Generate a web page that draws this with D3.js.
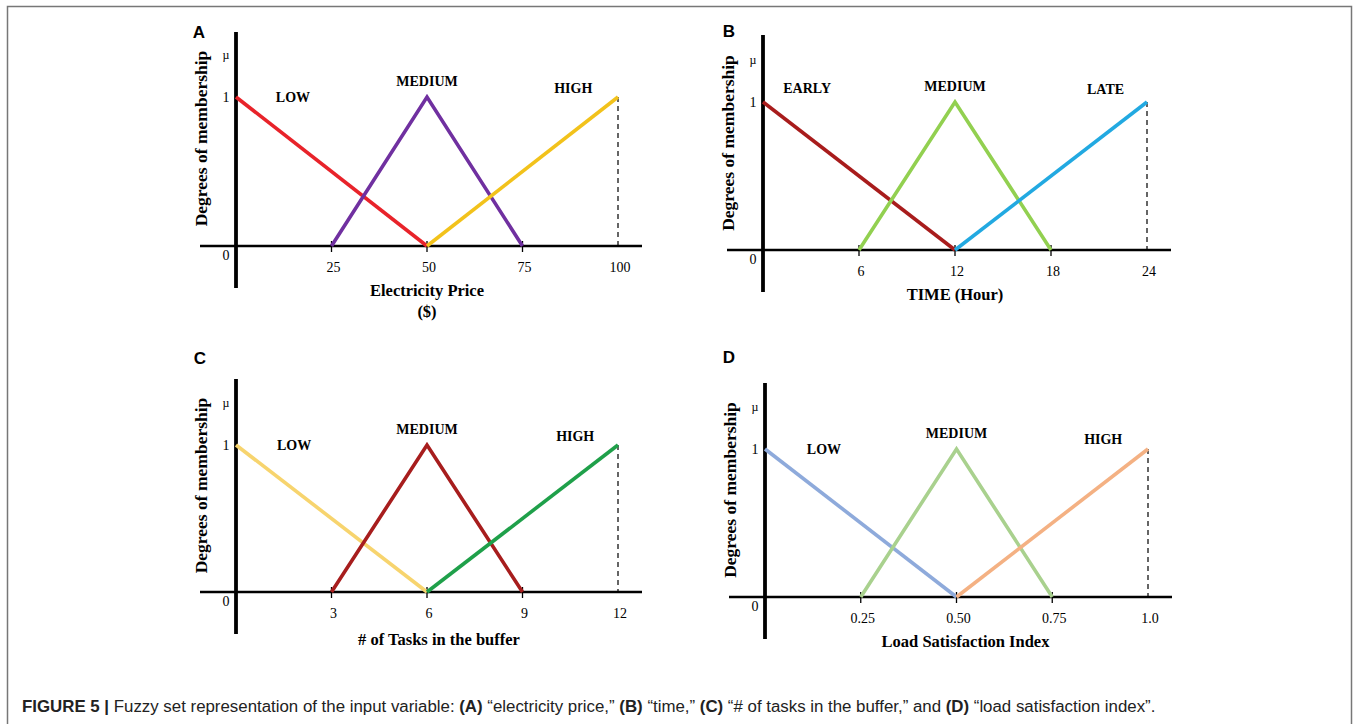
<!DOCTYPE html>
<html>
<head>
<meta charset="utf-8">
<script src="https://cdn.jsdelivr.net/npm/d3@7"></script>
<style>
  body { margin: 0; background: #fff; }
  svg { display: block; }
</style>
</head>
<body>
<div id="chart"></div>
<script>
// panel data: membership functions as [x, mu] breakpoints
var panelLetters = ["A", "B", "C", "D"];
var xTitles = [["Electricity Price", "($)"], ["TIME (Hour)"], ["# of Tasks in the buffer"], ["Load Satisfaction Index"]];
var xMaxValues = [100, 24, 12, 1];
var xTicks = [[25, 50, 75, 100], [6, 12, 18, 24], [3, 6, 9, 12], [0.25, 0.5, 0.75, 1.0]];
var xTickLabels = [["25", "50", "75", "100"], ["6", "12", "18", "24"], ["3", "6", "9", "12"], ["0.25", "0.50", "0.75", "1.0"]];
var setNames = [["LOW", "MEDIUM", "HIGH"], ["EARLY", "MEDIUM", "LATE"], ["LOW", "MEDIUM", "HIGH"], ["LOW", "MEDIUM", "HIGH"]];
var setsA = [[[0, 1], [50, 0]], [[25, 0], [50, 1], [75, 0]], [[50, 0], [100, 1]]];
var setsB = [[[0, 1], [12, 0]], [[6, 0], [12, 1], [18, 0]], [[12, 0], [24, 1]]];
var setsC = [[[0, 1], [6, 0]], [[3, 0], [6, 1], [9, 0]], [[6, 0], [12, 1]]];
var setsD = [[[0, 1], [0.5, 0]], [[0.25, 0], [0.5, 1], [0.75, 0]], [[0.5, 0], [1, 1]]];
var allSets = [setsA, setsB, setsC, setsD];
var setColors = [
    ["#e8232a", "#7030a0", "#f2c21b"],
    ["#a81c1c", "#92d050", "#22a9e1"],
    ["#f7d46e", "#a71d1d", "#1fa04a"],
    ["#8eaadb", "#a9d18e", "#f4b183"]
];

// layout of the four panels (pixels)
var layout = [
    { x0: 236, x1: 618, y0: 246, y1: 97, top: 32, letter: [199, 38], yTitleX: 201, xTitleY: 296, xTitleDx: 0, labelPos: [[0.149, 1.0], [0.5, 1.105], [0.883, 1.063]] },
    { x0: 763, x1: 1147, y0: 250, y1: 102, top: 35, letter: [729, 37], yTitleX: 728, xTitleY: 300, xTitleDx: 0, labelPos: [[0.115, 1.094], [0.5, 1.108], [0.892, 1.086]] },
    { x0: 236, x1: 618, y0: 592, y1: 445, top: 379, letter: [200, 364], yTitleX: 201, xTitleY: 645, xTitleDx: 12, labelPos: [[0.152, 1.0], [0.5, 1.109], [0.888, 1.061]] },
    { x0: 765, x1: 1148, y0: 597, y1: 449, top: 383, letter: [729, 363], yTitleX: 730, xTitleY: 647, xTitleDx: 9, labelPos: [[0.154, 1.0], [0.5, 1.11], [0.883, 1.066]] }
];

var width = 1357, height = 724;
var serif = "'Liberation Serif', 'Times New Roman', serif";
var sans = "'Liberation Sans', Arial, Helvetica, sans-serif";

var svg = d3.select("#chart").append("svg")
    .attr("width", width)
    .attr("height", height);

// outer frame
svg.append("rect")
    .attr("x", 7.5).attr("y", 6.5)
    .attr("width", 1344).attr("height", 740)
    .attr("fill", "none")
    .attr("stroke", "#777")
    .attr("stroke-width", 1.5);

function drawPanel(i) {
    var L = layout[i];
    var g = svg.append("g");

    var x = d3.scaleLinear().domain([0, xMaxValues[i]]).range([L.x0, L.x1]);
    var y = d3.scaleLinear().domain([0, 1]).range([L.y0, L.y1]);

    // panel letter
    g.append("text")
        .attr("x", L.letter[0]).attr("y", L.letter[1])
        .attr("text-anchor", "middle")
        .style("font-family", sans).style("font-weight", "bold").style("font-size", "17px")
        .text(panelLetters[i]);

    // dashed line at the max
    g.append("line")
        .attr("x1", x(xMaxValues[i])).attr("x2", x(xMaxValues[i]))
        .attr("y1", y(1)).attr("y2", y(0))
        .attr("stroke", "#333").attr("stroke-width", 1.5)
        .attr("stroke-dasharray", "5,4");

    // axes
    g.append("line")
        .attr("x1", L.x0 - 36).attr("x2", L.x1 + 24)
        .attr("y1", L.y0).attr("y2", L.y0)
        .attr("stroke", "#000").attr("stroke-width", 2.6);
    g.append("line")
        .attr("x1", L.x0).attr("x2", L.x0)
        .attr("y1", L.top).attr("y2", L.y0 + 42)
        .attr("stroke", "#000").attr("stroke-width", 3.8);

    // tick marks (not at the max, the dashed line is there)
    g.selectAll(".tick").data(xTicks[i].slice(0, 3)).enter().append("line")
        .attr("x1", d => x(d)).attr("x2", d => x(d))
        .attr("y1", L.y0 - 5).attr("y2", L.y0 + 6)
        .attr("stroke", "#000").attr("stroke-width", 1.3);

    g.selectAll(".ticklabel").data(xTicks[i]).enter().append("text")
        .attr("x", d => x(d) + 2).attr("y", L.y0 + 26)
        .attr("text-anchor", "middle")
        .style("font-family", serif).style("font-size", "14px")
        .text((d, j) => xTickLabels[i][j]);

    // y labels
    var yl = [["0", L.y0 + 14], ["1", y(1) + 5], ["\u00b5", y(1) - 38]];
    yl.forEach(function(t) {
        g.append("text")
            .attr("x", L.x0 - 10).attr("y", t[1])
            .attr("text-anchor", "middle")
            .style("font-family", serif)
            .style("font-size", t[0] === "\u00b5" ? "12px" : "14px")
            .text(t[0]);
    });

    // axis titles
    g.append("text")
        .attr("transform", "translate(" + L.yTitleX + "," + ((L.y1 + L.y0) / 2 - 33) + ") rotate(-90)")
        .attr("text-anchor", "middle")
        .attr("dy", "0.35em")
        .style("font-family", serif).style("font-weight", "bold").style("font-size", "17.5px")
        .text("Degrees of membership");

    xTitles[i].forEach(function(t, j) {
        g.append("text")
            .attr("x", x(xMaxValues[i] / 2) + L.xTitleDx).attr("y", L.xTitleY + j * 21)
            .attr("text-anchor", "middle")
            .style("font-family", serif).style("font-weight", "bold").style("font-size", "16.5px")
            .text(t);
    });

    // membership lines
    var line = d3.line().x(d => x(d[0])).y(d => y(d[1]));
    g.selectAll(".set").data(allSets[i]).enter().append("path")
        .attr("d", line)
        .attr("fill", "none")
        .attr("stroke", (d, j) => setColors[i][j])
        .attr("stroke-width", 3.6)
        .attr("stroke-linejoin", "miter");

    // set names
    g.selectAll(".setname").data(setNames[i]).enter().append("text")
        .attr("x", (d, j) => x(L.labelPos[j][0] * xMaxValues[i]))
        .attr("y", (d, j) => y(L.labelPos[j][1]) + 5)
        .attr("text-anchor", "middle")
        .style("font-family", serif).style("font-weight", "bold").style("font-size", "14px")
        .text(d => d);
}

for (var i = 0; i < 4; i++) drawPanel(i);

// caption
var cap = svg.append("text")
    .attr("x", 22).attr("y", 712)
    .style("font-family", sans).style("font-size", "16.85px").style("fill", "#222");
cap.append("tspan").style("font-weight", "bold").text("FIGURE 5 | ");
cap.append("tspan").text("Fuzzy set representation of the input variable: ");
cap.append("tspan").style("font-weight", "bold").text("(A)");
cap.append("tspan").text(" \u201celectricity price,\u201d ");
cap.append("tspan").style("font-weight", "bold").text("(B)");
cap.append("tspan").text(" \u201ctime,\u201d ");
cap.append("tspan").style("font-weight", "bold").text("(C)");
cap.append("tspan").text(" \u201c# of tasks in the buffer,\u201d and ");
cap.append("tspan").style("font-weight", "bold").text("(D)");
cap.append("tspan").text(" \u201cload satisfaction index\u201d.");
</script>
</body>
</html>
